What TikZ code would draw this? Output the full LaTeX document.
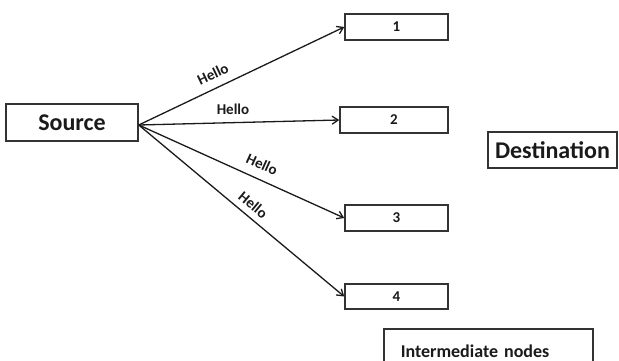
\documentclass[tikz,border=0pt]{standalone}
\usepackage{fontspec}
\setmainfont{Carlito}
\usepackage{xcolor}
\usepackage{tikz}
\usetikzlibrary{arrows.meta,positioning}
\definecolor{ink}{HTML}{1A1A1A}
\definecolor{frame}{HTML}{333333}
\tikzset{
  >={Straight Barb[length=6pt,width=8pt]},
  every node/.style={text=ink},
  box/.style={draw=frame,line width=1.5pt,fill=white,inner sep=0pt,font=\bfseries\fontsize{24}{28}\selectfont},
  numbox/.style={box,minimum width=103pt,minimum height=26pt,font=\bfseries\fontsize{15}{18}\selectfont},
  arrow/.style={->,line width=1.3pt,draw=ink},
  hello/.style={font=\bfseries\fontsize{15}{18}\selectfont,inner sep=1pt}
}

\begin{document}
\begin{tikzpicture}[x=1pt,y=-1pt]
  \useasboundingbox (0,0) rectangle (619,361);
  \node[box,minimum width=132pt,minimum height=37pt] (src) at (72,122.5) {Source};
  \node[numbox] (n1) at (396.5,27) {1};
  \node[numbox,minimum width=108pt] (n2) at (394,120) {2};
  \node[numbox] (n3) at (396.5,218) {3};
  \node[numbox,minimum height=25pt] (n4) at (396.5,296.5) {4};
  \node[box,minimum width=129pt,minimum height=36pt] (dst) at (552.5,150) {Destination};
  \node[box,anchor=north west,minimum width=209pt,minimum height=44pt,text width=175pt,align=left,font=\bfseries\fontsize{18}{22}\selectfont] (mid) at (383,328) {Intermediate nodes};

  \coordinate (fan) at ([yshift=-2.5pt]src.east);
  \draw[arrow] (fan) -- node[hello,sloped,above=7pt,pos=0.39]{Hello} (n1.west);
  \draw[arrow] (fan) -- node[hello,above=6pt,pos=0.47]{Hello} (n2.west);
  \draw[arrow] (fan) -- node[hello,sloped,above=8pt,pos=0.57]{Hello} (n3.west);
  \draw[arrow] (fan) -- node[hello,sloped,above=5pt,pos=0.52]{Hello} (n4.west);
\end{tikzpicture}
\end{document}
